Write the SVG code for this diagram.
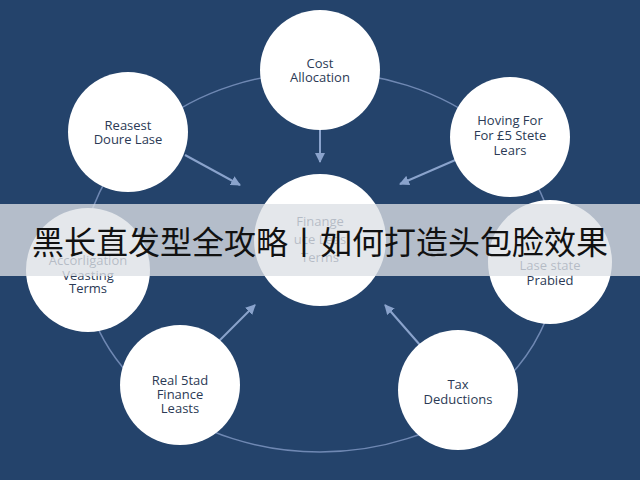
<svg xmlns="http://www.w3.org/2000/svg" width="640" height="480" viewBox="0 0 640 480">
<defs>
<marker id="ar" viewBox="0 0 10 10" refX="9" refY="5" markerWidth="5" markerHeight="5" orient="auto"><path d="M0,0L10,5L0,10z" fill="#8aa3cc"/></marker>
</defs>
<style>
.n{fill:#fff}
.t{font-family:"Open Sans","DejaVu Sans",sans-serif;font-size:13px;fill:#2b3a55;text-anchor:middle}
.c{stroke:#8aa3cc;stroke-width:2;fill:none}
</style>
<rect width="640" height="480" fill="#24436b"/>
<g id="connectors">
<ellipse cx="320" cy="262" rx="237" ry="190" fill="none" stroke="#6f88b3" stroke-width="1.5"/>
<line class="c" x1="320" y1="122" x2="320" y2="162" marker-end="url(#ar)"/>
<line class="c" x1="185" y1="155" x2="240" y2="185" marker-end="url(#ar)"/>
<line class="c" x1="460" y1="158" x2="400" y2="184" marker-end="url(#ar)"/>
<line class="c" x1="215" y1="345" x2="255" y2="305" marker-end="url(#ar)"/>
<line class="c" x1="420" y1="345" x2="385" y2="305" marker-end="url(#ar)"/>
</g>
<g id="n0"><circle class="n" cx="320" cy="70" r="60"/><text class="t" x="320" y="68">Cost</text><text class="t" x="320" y="82">Allocation</text></g>
<g id="n1"><circle class="n" cx="128" cy="132" r="60"/><text class="t" x="128" y="130">Reasest</text><text class="t" x="128" y="144">Doure Lase</text></g>
<g id="n2"><circle class="n" cx="510" cy="137" r="60"/><text class="t" x="510" y="125">Hoving For</text><text class="t" x="510" y="140">For £5 Stete</text><text class="t" x="510" y="155">Lears</text></g>
<g id="center"><circle class="n" cx="320" cy="240" r="66"/><text class="t" x="320" y="226" fill="#9aa">Finange</text><text class="t" x="320" y="244">uce Leas</text><text class="t" x="320" y="262">Terms</text></g>
<g id="n3"><circle class="n" cx="88" cy="270" r="62"/><text class="t" x="88" y="265">Accorligation</text><text class="t" x="88" y="280">Veasting</text><text class="t" x="88" y="293">Terms</text></g>
<g id="n4"><circle class="n" cx="550" cy="262" r="62"/><text class="t" x="550" y="270">Lase state</text><text class="t" x="550" y="285">Prabied</text></g>
<g id="n5"><circle class="n" cx="180" cy="385" r="60"/><text class="t" x="180" y="385">Real 5tad</text><text class="t" x="180" y="399">Finance</text><text class="t" x="180" y="413">Leasts</text></g>
<g id="n6"><circle class="n" cx="458" cy="390" r="60"/><text class="t" x="458" y="389">Tax</text><text class="t" x="458" y="404">Deductions</text></g>
<rect x="0" y="204" width="640" height="72" fill="#dde0e6" opacity="0.78"/>
<text x="320" y="254" font-family="Noto Sans CJK SC,sans-serif" font-size="32" fill="#111" text-anchor="middle">黑长直发型全攻略丨如何打造头包脸效果</text>
</svg>
